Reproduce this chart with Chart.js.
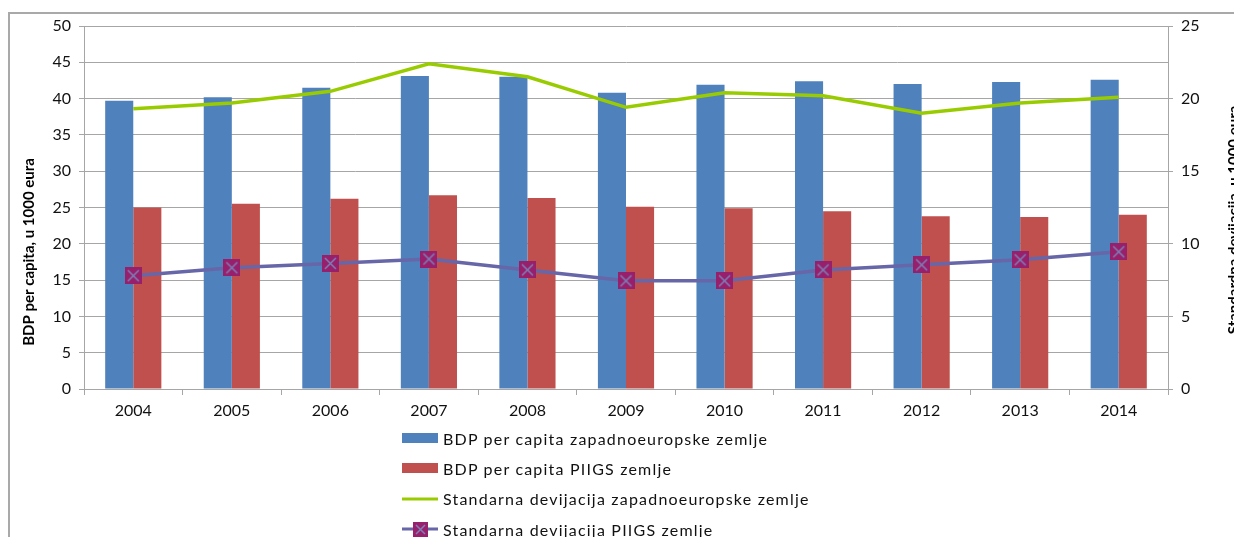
<!DOCTYPE html>
<html>
<head>
<meta charset="utf-8">
<script src="https://cdn.jsdelivr.net/npm/chart.js@4/dist/chart.umd.min.js"></script>
<style>
  html, body { margin: 0; padding: 0; background: #fff; overflow: hidden; }
  #wrap { position: relative; width: 1234px; height: 537px; overflow: hidden; }
  #frame { position: absolute; left: 8px; top: 12px; width: 1400px; height: 700px;
           border-left: 2px solid #a9a9a9; border-top: 2px solid #a9a9a9; }
  #chart { position: absolute; left: 0; top: 0; }
  #legend { position: absolute; left: 402px; top: 423px; font: 16px Lato, sans-serif;
            letter-spacing: 1.2px; color: #111; }
  .item { display: flex; align-items: center; height: 30.3px; white-space: nowrap; }
  .item canvas { margin-right: 5px; }
</style>
</head>
<body>
<div id="wrap">
  <div id="frame"></div>
  <canvas id="chart" width="1234" height="537"></canvas>
  <div id="legend"></div>
</div>
<script>
const years = ['2004', '2005', '2006', '2007', '2008', '2009', '2010', '2011', '2012', '2013', '2014'];
const gdpWest = [39.7, 40.2, 41.5, 43.1, 43.0, 40.8, 41.9, 42.4, 42.0, 42.3, 42.6];
const gdpPiigs = [25.0, 25.5, 26.2, 26.7, 26.3, 25.1, 24.9, 24.5, 23.8, 23.7, 24.0];
const sdWest = [19.3, 19.7, 20.5, 22.4, 21.5, 19.4, 20.4, 20.2, 19.0, 19.7, 20.1];
const sdPiigs = [7.8, 8.35, 8.65, 8.95, 8.2, 7.45, 7.45, 8.2, 8.55, 8.9, 9.45];

const seriesNames = [
  'BDP per capita zapadnoeuropske zemlje',
  'BDP per capita PIIGS zemlje',
  'Standarna devijacija zapadnoeuropske zemlje',
  'Standarna devijacija PIIGS zemlje'
];
const leftTitle = 'BDP per capita, u 1000 eura';
const rightTitle = 'Standardna devijacija, u 1000 eura';

const FONT = 'Lato, sans-serif';
const GRID = '#a6a6a6';
const TEXT = '#111';

// square marker with an x through it
function crossMarker(size) {
  const c = document.createElement('canvas');
  c.width = size; c.height = size;
  const g = c.getContext('2d');
  g.fillStyle = '#981f6b';
  g.fillRect(0, 0, size, size);
  g.strokeStyle = '#7c80b8';
  g.lineWidth = 1.5;
  g.beginPath();
  g.moveTo(3, 3); g.lineTo(size - 3, size - 3);
  g.moveTo(size - 3, 3); g.lineTo(3, size - 3);
  g.stroke();
  return c;
}
const marker = crossMarker(17);
const legendMarker = crossMarker(15);

// rotated axis titles
const axisTitles = {
  id: 'axisTitles',
  afterDraw(chart) {
    const ctx = chart.ctx;
    [[leftTitle, 29, 252], [rightTitle, 1234, 220]].forEach(([text, x, y]) => {
      ctx.save();
      ctx.font = 'bold 15px ' + FONT;
      ctx.fillStyle = '#000';
      ctx.textAlign = 'center';
      ctx.textBaseline = 'middle';
      ctx.translate(x, y);
      ctx.rotate(-Math.PI / 2);
      ctx.fillText(text, 0, 0);
      ctx.restore();
    });
  }
};

const tickFont = { family: FONT, size: 16 };

const chart = new Chart(document.getElementById('chart'), {
  data: {
    labels: years,
    datasets: [
      { type: 'bar', label: seriesNames[0], data: gdpWest, backgroundColor: '#4f81bd',
        yAxisID: 'y', order: 2, categoryPercentage: 0.57, barPercentage: 1 },
      { type: 'bar', label: seriesNames[1], data: gdpPiigs, backgroundColor: '#c0504d',
        yAxisID: 'y', order: 2, categoryPercentage: 0.57, barPercentage: 1 },
      { type: 'line', label: seriesNames[2], data: sdWest, borderColor: '#99cc00',
        borderWidth: 3.5, pointRadius: 0, yAxisID: 'y2', order: 1, tension: 0 },
      { type: 'line', label: seriesNames[3], data: sdPiigs, borderColor: '#6666a8',
        borderWidth: 3.5, pointStyle: marker, pointRadius: 8, yAxisID: 'y2', order: 0, tension: 0 }
    ]
  },
  options: {
    responsive: false,
    animation: false,
    layout: { padding: { top: 26, left: 1, right: 0, bottom: 0 } },
    plugins: { legend: { display: false }, tooltip: { enabled: false } },
    scales: {
      x: {
        offset: true,
        grid: { offset: true, drawOnChartArea: false, tickLength: 6, color: GRID },
        border: { color: GRID },
        ticks: { font: tickFont, color: TEXT, padding: 6, maxRotation: 0 },
        afterFit(s) { s.height = 148; }
      },
      y: {
        position: 'left', min: 0, max: 50,
        ticks: { stepSize: 5, padding: 8, font: tickFont, color: TEXT },
        grid: { color: GRID, tickLength: 5 },
        border: { color: GRID },
        afterFit(s) { s.width = 83; }
      },
      y2: {
        position: 'right', min: 0, max: 25,
        ticks: { stepSize: 5, padding: 8, font: tickFont, color: TEXT },
        grid: { drawOnChartArea: false, tickLength: 5, color: GRID },
        border: { color: GRID },
        afterFit(s) { s.width = 66; }
      }
    }
  },
  plugins: [axisTitles]
});

// legend listed one series per row
const legendBox = document.getElementById('legend');
chart.data.datasets.forEach(ds => {
  const row = document.createElement('div');
  row.className = 'item';
  const icon = document.createElement('canvas');
  icon.width = 36; icon.height = 20;
  const g = icon.getContext('2d');
  if (ds.type === 'bar') {
    g.fillStyle = ds.backgroundColor;
    g.fillRect(0, 5, 36, 10);
  } else {
    g.strokeStyle = ds.borderColor;
    g.lineWidth = 3;
    g.beginPath(); g.moveTo(0, 10); g.lineTo(36, 10); g.stroke();
    if (ds.pointStyle) g.drawImage(legendMarker, 11, 3);
  }
  const txt = document.createElement('span');
  txt.textContent = ds.label;
  row.appendChild(icon);
  row.appendChild(txt);
  legendBox.appendChild(row);
});
</script>
</body>
</html>
